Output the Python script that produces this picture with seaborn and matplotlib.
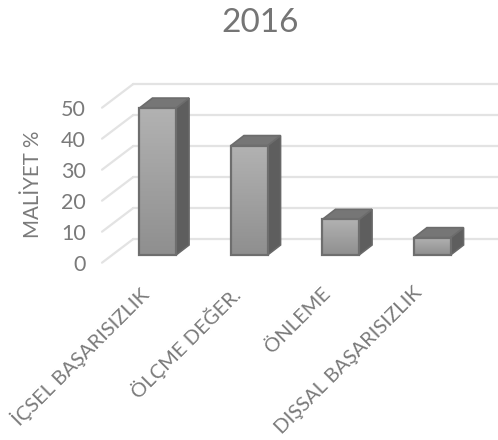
import numpy as np
import matplotlib.pyplot as plt
from matplotlib.patches import Polygon
from matplotlib.transforms import ScaledTranslation
import seaborn as sns

categories = ['İÇSEL BAŞARISIZLIK', 'ÖLÇME DEĞER.', 'ÖNLEME', 'DIŞSAL BAŞARISIZLIK']
values = [47.4, 35.3, 11.5, 5.6]
y_ticks = [0, 10, 20, 30, 40, 50]

sns.set_theme(style='white')
plt.rcParams['font.family'] = ['Lato', 'DejaVu Sans']

W, H = 498, 440
fig = plt.figure(figsize=(W / 100, H / 100), dpi=100)
# bar plane: value 0 at y=255 px, 3.1 px per unit
ax = fig.add_axes([112 / W, 1 - 255 / H, 366 / W, 155 / H])

sns.barplot(x=categories, y=values, ax=ax, width=0.4, fill=True, color='#999999')
ax.set_xlim(-0.5, 3.5)
ax.set_ylim(0, 50)

# depth of the bars and of the floor, in data units
dx, dy = 13 / 91.5, 10 / 3.1
back_x, back_y = 21.3 / 91.5, 16 / 3.1
front_x, front_y = 10 / 91.5, 7.7 / 3.1
right_end = 3.5 + 20 / 91.5

grid_col = '#e3e3e3'
for v in y_ticks:
    ax.plot([-0.5 + back_x, right_end], [v + back_y, v + back_y], color=grid_col, lw=1.6,
            clip_on=False, zorder=1)
    ax.plot([-0.5 - front_x, -0.5 + back_x], [v - front_y, v + back_y], color=grid_col, lw=1.6,
            clip_on=False, zorder=1)

grad = np.linspace(0, 1, 64).reshape(-1, 1)
cmap = sns.blend_palette(['#b2b2b2', '#8f8f8f'], as_cmap=True)
for bar in ax.patches:
    x0, w, h = bar.get_x(), bar.get_width(), bar.get_height()
    x1 = x0 + w
    side = Polygon([(x1, 0), (x1 + dx, dy), (x1 + dx, h + dy), (x1, h)], closed=True,
                   fc='#5e5e5e', ec='#686868', lw=1.2, clip_on=False, zorder=3)
    top = Polygon([(x0, h), (x0 + dx, h + dy), (x1 + dx, h + dy), (x1, h)], closed=True,
                  fc='#767676', ec='#6c6c6c', lw=1.2, clip_on=False, zorder=3)
    ax.add_patch(side)
    ax.add_patch(top)
    ax.imshow(grad, extent=(x0, x1, 0, h), aspect='auto', cmap=cmap, zorder=4, clip_on=False)
    bar.set_facecolor('none')
    bar.set_edgecolor('#6e6e6e')
    bar.set_linewidth(1.6)
    bar.set_zorder(5)
    bar.set_clip_on(False)

ax.set_xlim(-0.5, 3.5)
ax.set_ylim(0, 50)
sns.despine(ax=ax, left=True, bottom=True, top=True, right=True)
ax.patch.set_alpha(0)

txt = '#7a7a7a'
ax.set_yticks(y_ticks)
ax.set_yticklabels(y_ticks, fontsize=15.5, color=txt)
ax.tick_params(axis='y', length=0, pad=19)
down = ScaledTranslation(0, -8 / 100, fig.dpi_scale_trans)
for lab in ax.get_yticklabels():
    lab.set_transform(lab.get_transform() + down)

ax.set_xticks(range(len(categories)))
ax.set_xticklabels(categories, rotation=45, ha='right', rotation_mode='anchor',
                   fontsize=14.5, color=txt)
ax.tick_params(axis='x', length=0, pad=21)
left = ScaledTranslation(-19 / 100, 0, fig.dpi_scale_trans)
for lab in ax.get_xticklabels():
    lab.set_transform(lab.get_transform() + left)

fig.text(33 / W, 1 - 184 / H, 'MALİYET %', rotation=90, ha='center', va='center',
         fontsize=14.8, color=txt)
fig.text(260 / W, 1 - 23 / H, '2016', ha='center', va='center', fontsize=24, color='#757575')

fig.savefig('out.png', dpi=100)
